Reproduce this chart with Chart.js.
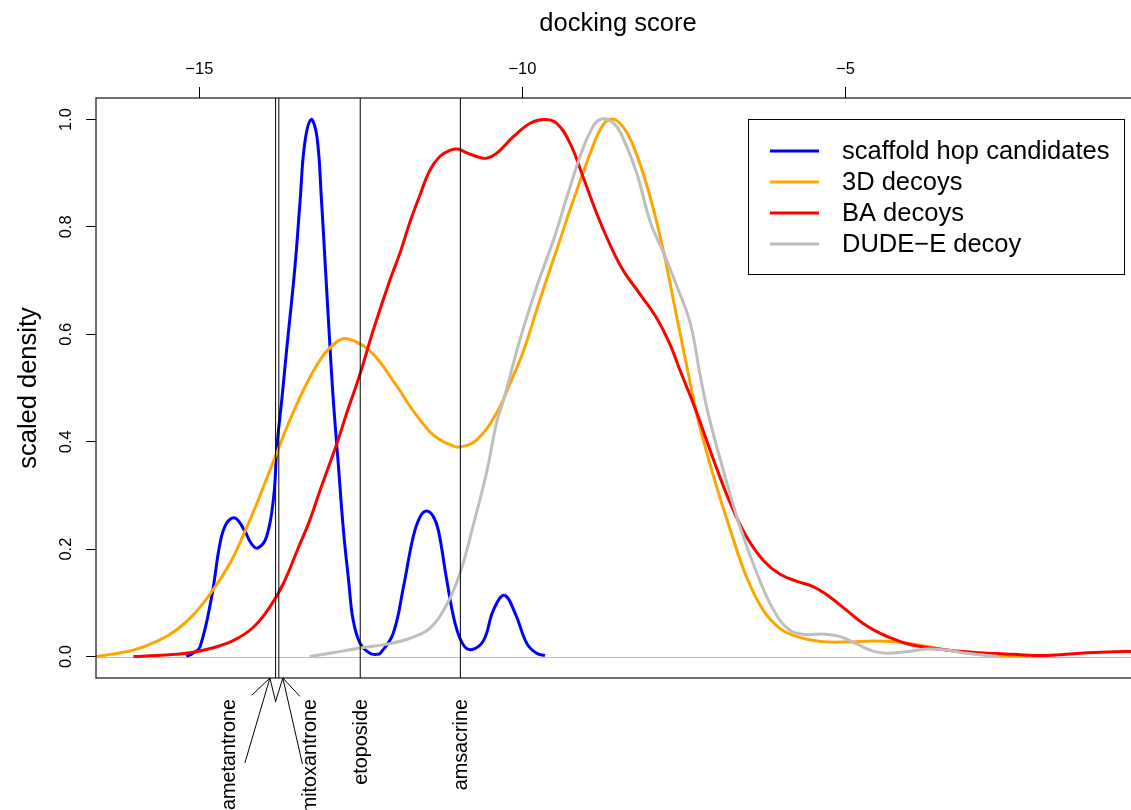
<!DOCTYPE html>
<html>
<head>
<meta charset="utf-8">
<script src="https://cdn.jsdelivr.net/npm/chart.js@4.4.1/dist/chart.umd.min.js"></script>
<style>
html,body{margin:0;padding:0;overflow:hidden;background:#fff;width:1131px;height:810px}
#wrap{position:absolute;left:0;top:0;width:1141px;height:810px}
</style>
</head>
<body>
<div id="wrap"><canvas id="c" width="1141" height="810"></canvas></div>
<script>
// ---------- data ----------
const xTicks = [-15, -10, -5];
const yTicks = [0, 0.2, 0.4, 0.6, 0.8, 1.0];
const seriesNames = ['scaffold hop candidates', '3D decoys', 'BA decoys', 'DUDE\u2212E decoy'];

const blueX = [-15.20,-15.10,-14.99,-14.81,-14.68,-14.58,-14.45,-14.29,-14.20,-14.10,-13.96,-13.85,-13.80,-13.72,-13.65,-13.52,-13.44,-13.37,-13.27,-13.18,-13.11,-13.05,-12.99,-12.93,-12.85,-12.77,-12.69,-12.62,-12.51,-12.36,-12.25,-12.20,-12.00,-11.84,-11.69,-11.58,-11.48,-11.38,-11.30,-11.17,-11.04,-10.91,-10.78,-10.60,-10.45,-10.28,-10.11,-9.93,-9.78,-9.65];
const blueY = [0.000,0.006,0.018,0.111,0.211,0.248,0.258,0.232,0.211,0.202,0.223,0.297,0.390,0.483,0.570,0.726,0.850,0.955,1.000,0.968,0.850,0.726,0.601,0.483,0.359,0.235,0.142,0.068,0.024,0.006,0.004,0.006,0.043,0.130,0.223,0.261,0.271,0.261,0.235,0.142,0.061,0.021,0.013,0.030,0.086,0.114,0.080,0.024,0.006,0.002];

const orangeX = [-16.60,-16.38,-16.02,-15.66,-15.35,-15.09,-14.80,-14.52,-14.32,-14.11,-13.80,-13.60,-13.34,-13.08,-12.87,-12.74,-12.51,-12.36,-12.20,-12.05,-11.89,-11.74,-11.58,-11.43,-11.27,-11.11,-10.98,-10.71,-10.40,-10.19,-9.98,-9.73,-9.47,-9.21,-8.95,-8.80,-8.66,-8.49,-8.30,-8.05,-7.82,-7.61,-7.40,-7.28,-7.04,-6.78,-6.53,-6.27,-6.01,-5.75,-5.39,-4.98,-4.57,-4.20,-3.84,-3.43,-2.91,-2.17];
const orangeY = [0.000,0.004,0.012,0.028,0.050,0.078,0.122,0.175,0.226,0.285,0.380,0.440,0.508,0.561,0.586,0.592,0.582,0.569,0.548,0.522,0.494,0.466,0.440,0.418,0.403,0.394,0.390,0.403,0.453,0.509,0.570,0.664,0.757,0.850,0.937,0.980,1.000,0.993,0.956,0.868,0.757,0.632,0.508,0.440,0.335,0.235,0.148,0.086,0.052,0.037,0.028,0.027,0.029,0.027,0.021,0.012,0.004,0.000];

const redX = [-16.02,-15.66,-15.20,-14.83,-14.47,-14.16,-13.91,-13.70,-13.47,-13.29,-13.13,-12.87,-12.72,-12.51,-12.31,-12.05,-11.89,-11.74,-11.58,-11.43,-11.27,-11.11,-11.00,-10.86,-10.65,-10.55,-10.40,-10.14,-9.88,-9.67,-9.47,-9.26,-9.06,-8.85,-8.64,-8.44,-8.18,-7.92,-7.71,-7.56,-7.40,-7.28,-7.04,-6.78,-6.53,-6.27,-6.01,-5.75,-5.50,-5.24,-4.98,-4.72,-4.46,-4.20,-3.95,-3.43,-2.91,-2.40,-1.88,-1.37,-0.85,-0.30];
const redY = [0.000,0.002,0.006,0.015,0.030,0.055,0.092,0.136,0.202,0.254,0.310,0.397,0.453,0.527,0.607,0.701,0.753,0.809,0.861,0.906,0.932,0.943,0.945,0.938,0.929,0.928,0.937,0.968,0.993,1.000,0.993,0.955,0.893,0.825,0.766,0.719,0.675,0.630,0.580,0.533,0.485,0.447,0.366,0.285,0.223,0.179,0.153,0.140,0.130,0.111,0.086,0.061,0.043,0.030,0.021,0.012,0.007,0.004,0.002,0.006,0.009,0.009];

const greyX = [-13.29,-12.98,-12.56,-12.05,-11.74,-11.43,-11.17,-10.96,-10.76,-10.55,-10.40,-10.29,-10.04,-9.78,-9.52,-9.31,-9.11,-8.95,-8.80,-8.59,-8.44,-8.23,-8.02,-7.82,-7.61,-7.40,-7.25,-7.12,-6.89,-6.63,-6.37,-6.11,-5.86,-5.60,-5.34,-5.08,-4.82,-4.57,-4.36,-4.05,-3.74,-3.43,-3.12,-2.63];
const greyY = [0.000,0.006,0.015,0.024,0.034,0.053,0.097,0.157,0.245,0.345,0.435,0.478,0.589,0.688,0.775,0.856,0.930,0.977,1.000,0.993,0.965,0.900,0.809,0.753,0.690,0.620,0.525,0.450,0.347,0.241,0.155,0.086,0.049,0.041,0.042,0.037,0.023,0.010,0.006,0.009,0.014,0.012,0.006,0.000];

const drugNames = ['ametantrone', 'mitoxantrone', 'etoposide', 'amsacrine'];
const drugScores = [-13.82, -13.77, -12.51, -10.96];

// ---------- rendering ----------
const FONT = "'Liberation Sans', Arial, Helvetica, sans-serif";
Chart.defaults.font.family = FONT;
Chart.defaults.color = '#000';

function pts(xs, ys) { return xs.map((v, i) => ({ x: v, y: ys[i] })); }
const minus = v => (v < 0 ? '\u2212' + Math.abs(v) : String(v));

const colors = ['#0000FF', '#FFA500', '#FF0000', '#BEBEBE'];
const seriesX = [blueX, orangeX, redX, greyX];
const seriesY = [blueY, orangeY, redY, greyY];

function arrow(ctx, x0, y0, x1, y1, len, ang) {
  ctx.beginPath();
  ctx.moveTo(x0, y0); ctx.lineTo(x1, y1);
  const th = Math.atan2(y0 - y1, x0 - x1);
  ctx.moveTo(x1 + len * Math.cos(th + ang), y1 + len * Math.sin(th + ang));
  ctx.lineTo(x1, y1);
  ctx.lineTo(x1 + len * Math.cos(th - ang), y1 + len * Math.sin(th - ang));
  ctx.stroke();
}

const decor = {
  id: 'decor',
  beforeDatasetsDraw(chart) {
    const { ctx, chartArea: a, scales: { y } } = chart;
    const y0 = Math.round(y.getPixelForValue(0)) + 0.5;
    ctx.save();
    ctx.strokeStyle = '#BEBEBE'; ctx.lineWidth = 1;
    ctx.beginPath(); ctx.moveTo(a.left, y0); ctx.lineTo(a.right, y0); ctx.stroke();
    ctx.restore();
  },
  afterDatasetsDraw(chart, args, o) {
    const { ctx, chartArea: a, scales: { x, y } } = chart;
    ctx.save();
    ctx.strokeStyle = '#000'; ctx.lineWidth = 1;
    drugScores.forEach(s => {
      const px = x.getPixelForValue(s);
      ctx.beginPath(); ctx.moveTo(px, a.top); ctx.lineTo(px, a.bottom); ctx.stroke();
    });
    ctx.strokeStyle = '#111'; ctx.lineWidth = 1.2;
    ctx.strokeRect(a.left, a.top, a.right - a.left, a.bottom - a.top);
    const L = o.legend;
    ctx.fillStyle = '#fff';
    ctx.fillRect(L.x, L.y, L.w, L.h);
    ctx.strokeStyle = '#000'; ctx.lineWidth = 1;
    ctx.strokeRect(L.x + 0.5, L.y + 0.5, L.w, L.h);
    ctx.font = L.fontSize + 'px ' + FONT;
    ctx.textAlign = 'left'; ctx.textBaseline = 'middle';
    chart.data.datasets.forEach((ds, i) => {
      const yy = L.y + L.firstRow + i * L.rowGap;
      ctx.strokeStyle = ds.borderColor; ctx.lineWidth = 3;
      ctx.beginPath(); ctx.moveTo(L.x + L.lineX0, yy); ctx.lineTo(L.x + L.lineX1, yy); ctx.stroke();
      ctx.fillStyle = '#000';
      ctx.fillText(ds.label, L.x + L.textX, yy + 1);
    });
    ctx.restore();
  },
  afterDraw(chart, args, o) {
    const { ctx, chartArea: a, scales: { x, y } } = chart;
    ctx.save();
    ctx.fillStyle = '#000';
    ctx.font = o.tickFont + 'px ' + FONT;
    ctx.textAlign = 'center'; ctx.textBaseline = 'middle';
    yTicks.forEach(v => {
      ctx.save();
      ctx.translate(o.yLabelX, y.getPixelForValue(v));
      ctx.rotate(-Math.PI / 2);
      ctx.fillText(v.toFixed(1), 0, 0);
      ctx.restore();
    });
    ctx.font = o.drugFont + 'px ' + FONT;
    ctx.textAlign = 'right'; ctx.textBaseline = 'middle';
    drugScores.forEach((s, i) => {
      const px = x.getPixelForValue(s);
      const cfg = o.drugs[i];
      ctx.save();
      ctx.translate(px + cfg.labelDx, a.bottom + o.drugTextGap);
      ctx.rotate(-Math.PI / 2);
      ctx.fillText(drugNames[i], 0, 0);
      ctx.restore();
      if (cfg.arrow) {
        ctx.strokeStyle = '#000'; ctx.lineWidth = 1;
        arrow(ctx, px + cfg.arrow.tailDx, a.bottom + cfg.arrow.tailDy, px + cfg.arrow.tipDx, a.bottom, 25, Math.PI / 6);
      }
    });
    ctx.restore();
  }
};

const datasets = seriesNames.map((name, i) => ({
  label: name,
  data: pts(seriesX[i], seriesY[i]),
  borderColor: colors[i],
  backgroundColor: colors[i],
  borderWidth: 3,
  pointRadius: 0,
  fill: false,
  tension: 0.4,
  order: 4 - i
}));

new Chart(document.getElementById('c'), {
  type: 'line',
  data: { datasets },
  plugins: [decor],
  options: {
    responsive: false,
    animation: false,
    devicePixelRatio: 1,
    layout: { padding: { left: 0, top: 0, right: 1, bottom: 132 } },
    plugins: {
      legend: { display: false },
      tooltip: { enabled: false },
      decor: {
        legend: { x: 748, y: 119, w: 376, h: 155, lineX0: 22, lineX1: 71, textX: 94, firstRow: 32, rowGap: 31, fontSize: 25.5 },
        tickFont: 16.5,
        yLabelX: 66,
        drugFont: 19.8,
        drugTextGap: 21,
        drugs: [
          { labelDx: -46, arrow: { tipDx: -5.7, tailDx: -30.7, tailDy: 85 } },
          { labelDx: 32, arrow: { tipDx: 4, tailDx: 23.6, tailDy: 86 } },
          { labelDx: 1.2 },
          { labelDx: 1.5 }
        ]
      }
    },
    scales: {
      x: {
        type: 'linear',
        position: 'top',
        min: -16.60,
        max: -0.44,
        afterBuildTicks: s => { s.ticks = xTicks.map(v => ({ value: v })); },
        afterFit: s => { s.height = 98; },
        ticks: { autoSkip: false, padding: 8, font: { size: 16.5 }, color: '#000', maxRotation: 0, callback: v => minus(v) },
        grid: { display: true, drawOnChartArea: false, drawTicks: true, tickLength: 11, color: '#000', lineWidth: 1 },
        border: { display: false },
        title: { display: true, text: 'docking score', font: { size: 25.5 }, color: '#000', padding: { top: 9, bottom: 0 } }
      },
      y: {
        type: 'linear',
        position: 'left',
        min: -0.04,
        max: 1.04,
        afterBuildTicks: s => { s.ticks = yTicks.map(v => ({ value: v })); },
        afterFit: s => { s.width = 96; },
        ticks: { display: false },
        grid: { display: true, drawOnChartArea: false, drawTicks: true, tickLength: 10, color: '#000', lineWidth: 1 },
        border: { display: false },
        title: { display: true, text: 'scaled density', font: { size: 25.5 }, color: '#000', padding: { top: 14, bottom: 0 } }
      }
    }
  }
});
</script>
</body>
</html>
